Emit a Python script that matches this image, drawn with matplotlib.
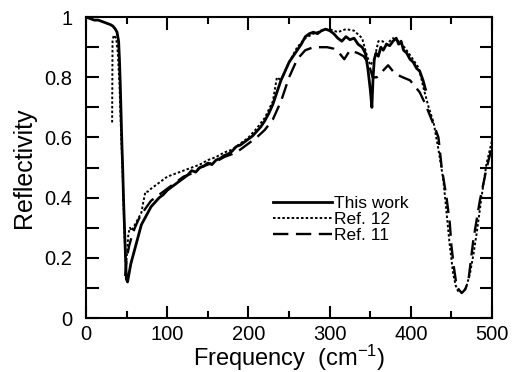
import numpy as np
import matplotlib
matplotlib.use('Agg')
import matplotlib.pyplot as plt
from matplotlib.ticker import MultipleLocator, FuncFormatter

plt.rcParams['font.family'] = ['Liberation Sans', 'DejaVu Sans']
plt.rcParams['mathtext.fontset'] = 'custom'
plt.rcParams['mathtext.rm'] = 'Liberation Sans'
plt.rcParams['mathtext.it'] = 'Liberation Sans'

# This work
work_f = [0, 5, 10, 15, 20, 25, 30, 33, 36, 38, 40, 41, 42, 43, 44, 45, 46, 47, 48, 49.5,
          51, 53, 55, 58, 61, 64, 68, 72, 76, 80, 85, 90, 95, 100, 105, 110, 115, 120, 125,
          130, 135, 140, 145, 150, 155, 160, 165, 170, 175, 180, 185, 190, 195, 200, 205,
          210, 215, 220, 225, 230, 235, 240, 245, 250, 255, 260, 265, 270, 275, 280, 285,
          290, 295, 300, 305, 310, 315, 320, 325, 330, 335, 340, 344, 347, 350, 352, 353.5,
          355, 357, 360, 363, 366, 370, 374, 378, 382, 385, 388, 391, 395, 399, 403, 407,
          411, 415, 418]
work_r = [1.0, 0.995, 0.99, 0.99, 0.985, 0.98, 0.975, 0.97, 0.96, 0.95, 0.92, 0.86, 0.78,
          0.68, 0.58, 0.50, 0.40, 0.32, 0.24, 0.13, 0.12, 0.15, 0.18, 0.21, 0.24, 0.27, 0.31,
          0.33, 0.35, 0.37, 0.385, 0.40, 0.41, 0.425, 0.435, 0.445, 0.455, 0.465, 0.475,
          0.49, 0.485, 0.50, 0.505, 0.515, 0.51, 0.525, 0.53, 0.54, 0.545, 0.555, 0.57,
          0.575, 0.585, 0.595, 0.605, 0.62, 0.635, 0.655, 0.68, 0.71, 0.75, 0.79, 0.82,
          0.85, 0.87, 0.89, 0.91, 0.935, 0.945, 0.95, 0.945, 0.955, 0.96, 0.955, 0.945,
          0.93, 0.92, 0.935, 0.925, 0.93, 0.91, 0.90, 0.88, 0.83, 0.76, 0.70, 0.80, 0.86,
          0.88, 0.87, 0.90, 0.89, 0.91, 0.905, 0.92, 0.93, 0.91, 0.92, 0.89, 0.88, 0.86,
          0.85, 0.83, 0.82, 0.79, 0.76]

# Ref. 12
ref12_f = [32, 32.5, 34, 37, 39, 41, 43, 45, 46.5, 48, 49, 50.5, 52, 54, 56, 60, 64, 68,
           70, 73, 76, 80, 85, 90, 95, 100, 110, 120, 130, 140, 150, 160, 170, 180, 190,
           200, 210, 220, 230, 235, 240, 250, 260, 270, 280, 290, 300, 310, 320, 330, 340,
           345, 350, 355, 360, 365, 370, 378, 385, 392, 400, 410, 416, 422, 428, 434, 440,
           444, 448, 452, 455, 458, 463, 468, 473, 477, 481, 487, 493, 500]
ref12_r = [0.65, 0.92, 0.94, 0.93, 0.88, 0.78, 0.62, 0.48, 0.34, 0.22, 0.17, 0.22, 0.28,
           0.30, 0.29, 0.31, 0.33, 0.35, 0.38, 0.42, 0.42, 0.43, 0.44, 0.45, 0.46, 0.47,
           0.48, 0.49, 0.50, 0.51, 0.525, 0.535, 0.55, 0.56, 0.58, 0.60, 0.63, 0.665, 0.72,
           0.80, 0.79, 0.85, 0.90, 0.93, 0.945, 0.955, 0.96, 0.95, 0.96, 0.955, 0.93, 0.88,
           0.84, 0.86, 0.92, 0.92, 0.91, 0.93, 0.92, 0.90, 0.87, 0.83, 0.76, 0.70, 0.65,
           0.56, 0.46, 0.35, 0.24, 0.15, 0.11, 0.09, 0.085, 0.10, 0.15, 0.21, 0.28, 0.40,
           0.51, 0.59]

# Ref. 11
ref11_f = [48, 50, 53, 56, 60, 65, 72, 80, 90, 100, 110, 120, 130, 140, 150, 160, 170,
           180, 190, 200, 210, 220, 230, 240, 250, 260, 270, 280, 290, 297, 305, 312, 318,
           325, 335, 342, 348, 353, 358, 365, 372, 378, 382, 390, 399, 411, 418, 424, 430,
           434, 438, 444, 448, 450, 453, 456.5, 462.6, 467, 471, 477, 485, 493.5, 500]
ref11_r = [0.14, 0.20, 0.24, 0.27, 0.30, 0.33, 0.36, 0.39, 0.41, 0.43, 0.45, 0.47, 0.48,
           0.50, 0.51, 0.52, 0.535, 0.545, 0.56, 0.58, 0.60, 0.625, 0.66, 0.72, 0.80, 0.86,
           0.89, 0.90, 0.90, 0.90, 0.895, 0.88, 0.86, 0.89, 0.88, 0.87, 0.845, 0.80, 0.80,
           0.82, 0.84, 0.82, 0.81, 0.80, 0.79, 0.75, 0.71, 0.67, 0.63, 0.60, 0.50, 0.40,
           0.315, 0.24, 0.17, 0.104, 0.083, 0.095, 0.126, 0.26, 0.39, 0.50, 0.57]

fig, ax = plt.subplots(figsize=(5.19, 3.72), dpi=100)
fig.subplots_adjust(left=0.166, right=0.948, bottom=0.145, top=0.954)

ax.plot(work_f, work_r, color='black', lw=2.0, label='This work')
ax.plot(ref12_f, ref12_r, color='black', lw=1.4, linestyle=(0, (1.3, 1.1)), label='Ref. 12')
ax.plot(ref11_f, ref11_r, color='black', lw=1.7, linestyle=(0, (6.5, 3.2)), label='Ref. 11')

ax.set_xlim(0, 500)
ax.set_ylim(0, 1)
ax.xaxis.set_major_locator(MultipleLocator(100))
ax.xaxis.set_minor_locator(MultipleLocator(50))
ax.yaxis.set_major_locator(MultipleLocator(0.2))
ax.yaxis.set_minor_locator(MultipleLocator(0.1))
ax.xaxis.set_major_formatter(FuncFormatter(lambda v, p: '%d' % round(v)))
ax.yaxis.set_major_formatter(FuncFormatter(lambda v, p: '%g' % round(v, 1)))
ax.tick_params(which='both', direction='in', top=True, right=True, width=1.5, labelsize=14.5)
ax.tick_params(axis='x', which='major', length=9, pad=5)
ax.tick_params(axis='x', which='minor', length=5)
ax.tick_params(axis='y', which='both', length=9, pad=10)
for s in ax.spines.values():
    s.set_linewidth(1.5)

ax.set_xlabel('Frequency  (cm$^{-1}$)', fontsize=17, labelpad=-1)
ax.set_ylabel('Reflectivity', fontsize=18, labelpad=6)

ax.legend(loc='upper left', bbox_to_anchor=(0.44, 0.435), frameon=False, fontsize=12.5,
          handlelength=3.4, handletextpad=0.1, labelspacing=0.05, borderpad=0)

fig.savefig('out.png', dpi=100)
